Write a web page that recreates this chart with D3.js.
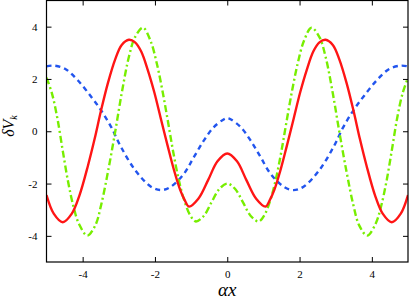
<!DOCTYPE html>
<html>
<head>
<meta charset="utf-8">
<script src="https://cdn.jsdelivr.net/npm/d3@7"></script>
<style>
  body { margin: 0; background: #fff; }
  text { font-family: "Liberation Serif", "DejaVu Serif", serif; }
</style>
</head>
<body>
<div id="chart"></div>
<script>
// tick values
var xTicks = [-4, -2, 0, 2, 4];
var yTicks = [-4, -2, 0, 2, 4];

// curves, [alpha x, delta V_k]
var redSolid = [[-5, -2.44], [-4.8, -3.15], [-4.55, -3.48], [-4.3, -3.15], [-4.09, -2.46], [-3.85, -1.3],
  [-3.67, -0.3], [-3.49, 0.8], [-3.3, 1.85], [-3.1, 2.75], [-2.92, 3.3], [-2.72, 3.5], [-2.55, 3.4],
  [-2.38, 3.05], [-2.2, 2.35], [-2.02, 1.5], [-1.84, 0.5], [-1.65, -0.55], [-1.47, -1.5], [-1.3, -2.25],
  [-1.17, -2.65], [-1.06, -2.88], [-0.8, -2.58], [-0.53, -1.87], [-0.27, -1.15], [0, -0.85],
  [0.27, -1.15], [0.53, -1.87], [0.8, -2.58], [1.06, -2.88], [1.17, -2.65], [1.3, -2.25], [1.47, -1.5],
  [1.65, -0.55], [1.84, 0.5], [2.02, 1.5], [2.2, 2.35], [2.38, 3.05], [2.55, 3.4], [2.72, 3.5],
  [2.92, 3.3], [3.1, 2.75], [3.3, 1.85], [3.49, 0.8], [3.67, -0.3], [3.85, -1.3], [4.09, -2.46],
  [4.3, -3.15], [4.55, -3.48], [4.8, -3.15], [5, -2.44]];

var blueDashed = [[-5, 2.48], [-4.81, 2.51], [-4.49, 2.39], [-4.13, 1.94], [-3.76, 1.31], [-3.49, 0.8],
  [-3.21, 0.16], [-2.94, -0.6], [-2.54, -1.5], [-2.11, -2.12], [-1.83, -2.25], [-1.56, -2.12],
  [-1.19, -1.61], [-0.92, -0.98], [-0.64, -0.34], [-0.37, 0.16], [-0.09, 0.46], [0, 0.5],
  [0.09, 0.46], [0.37, 0.16], [0.64, -0.34], [0.92, -0.98], [1.19, -1.61], [1.56, -2.12], [1.83, -2.25],
  [2.11, -2.12], [2.54, -1.5], [2.94, -0.6], [3.21, 0.16], [3.49, 0.8], [3.76, 1.31], [4.13, 1.94],
  [4.49, 2.39], [4.81, 2.51], [5, 2.48]];

var greenDashDot = [[-5, 2.05], [-4.85, 1.45], [-4.7, 0.5], [-4.55, -0.75], [-4.4, -1.95], [-4.25, -2.9],
  [-4.1, -3.55], [-3.87, -3.99], [-3.65, -3.6], [-3.49, -2.83], [-3.3, -1.55], [-3.1, -0.02], [-2.92, 1.45],
  [-2.72, 2.85], [-2.55, 3.6], [-2.33, 3.96], [-2.12, 3.45], [-1.95, 2.6], [-1.8, 1.6], [-1.65, 0.45],
  [-1.5, -0.75], [-1.35, -1.8], [-1.2, -2.6], [-1.03, -3.2], [-0.87, -3.45], [-0.65, -3.24],
  [-0.44, -2.73], [-0.22, -2.21], [0, -2.0], [0.22, -2.21], [0.44, -2.73], [0.65, -3.24], [0.87, -3.45],
  [1.03, -3.2], [1.2, -2.6], [1.35, -1.8], [1.5, -0.75], [1.65, 0.45], [1.8, 1.6], [1.95, 2.6],
  [2.12, 3.45], [2.33, 3.96], [2.55, 3.6], [2.72, 2.85], [2.92, 1.45], [3.1, -0.02], [3.3, -1.55],
  [3.49, -2.83], [3.65, -3.6], [3.87, -3.99], [4.1, -3.55], [4.25, -2.9], [4.4, -1.95], [4.55, -0.75],
  [4.7, 0.5], [4.85, 1.45], [5, 2.05]];

var W = 409, H = 297;
var plotL = 46.5, plotR = 408, plotT = 0.5, plotB = 262;

var svg = d3.select("#chart")
  .append("svg")
    .attr("width", W)
    .attr("height", H);

var x = d3.scaleLinear().domain([-5, 5]).range([plotL, plotR]);
var y = d3.scaleLinear().domain([-5, 5]).range([plotB, plotT]);

svg.append("defs").append("clipPath").attr("id", "clip")
  .append("rect")
    .attr("x", plotL).attr("y", plotT)
    .attr("width", plotR - plotL).attr("height", plotB - plotT);

var line = d3.line()
  .x(function(d) { return x(d[0]); })
  .y(function(d) { return y(d[1]); })
  .curve(d3.curveCatmullRom.alpha(0.5));

var g = svg.append("g").attr("clip-path", "url(#clip)");

g.append("path")
  .datum(blueDashed)
  .attr("d", line)
  .attr("fill", "none")
  .attr("stroke", "#2255ee")
  .attr("stroke-width", 2.4)
  .attr("stroke-dasharray", "5,4");

g.append("path")
  .datum(greenDashDot)
  .attr("d", line)
  .attr("fill", "none")
  .attr("stroke", "#77ee00")
  .attr("stroke-width", 2.4)
  .attr("stroke-dasharray", "7,3,2,3");

g.append("path")
  .datum(redSolid)
  .attr("d", line)
  .attr("fill", "none")
  .attr("stroke", "#ff1515")
  .attr("stroke-width", 2.4);

// axes, ticks inside on all four sides
var fmt = function(d) { return String(d); };
svg.append("g")
  .attr("transform", "translate(0," + plotB + ")")
  .call(d3.axisBottom(x).tickValues(xTicks).tickSizeInner(-5).tickSizeOuter(0).tickPadding(8).tickFormat(fmt));
svg.append("g")
  .attr("transform", "translate(0," + plotT + ")")
  .call(d3.axisTop(x).tickValues(xTicks).tickSizeInner(-5).tickSizeOuter(0).tickFormat(""));
svg.append("g")
  .attr("transform", "translate(" + plotL + ",0)")
  .call(d3.axisLeft(y).tickValues(yTicks).tickSizeInner(-5).tickSizeOuter(0).tickPadding(9).tickFormat(fmt));
svg.append("g")
  .attr("transform", "translate(" + plotR + ",0)")
  .call(d3.axisRight(y).tickValues(yTicks).tickSizeInner(-5).tickSizeOuter(0).tickFormat(""));

svg.selectAll(".domain").remove();
svg.selectAll(".tick line").attr("stroke", "#000");
svg.selectAll(".tick text")
  .attr("font-size", "11px")
  .attr("fill", "#000");

// frame
svg.append("rect")
  .attr("x", plotL).attr("y", plotT)
  .attr("width", plotR - plotL).attr("height", plotB - plotT)
  .attr("fill", "none")
  .attr("stroke", "#000")
  .attr("stroke-width", 1.2);

// axis labels
svg.append("text")
  .attr("x", x(0))
  .attr("y", 296)
  .attr("text-anchor", "middle")
  .attr("font-size", "19px")
  .attr("font-style", "italic")
  .text("αx");

var yl = svg.append("text")
  .attr("transform", "translate(14,126) rotate(-90)")
  .attr("text-anchor", "middle")
  .attr("font-size", "16px")
  .attr("font-style", "italic");
yl.append("tspan").text("δV");
yl.append("tspan").attr("font-size", "10px").attr("dy", 3).text("k");
</script>
</body>
</html>
